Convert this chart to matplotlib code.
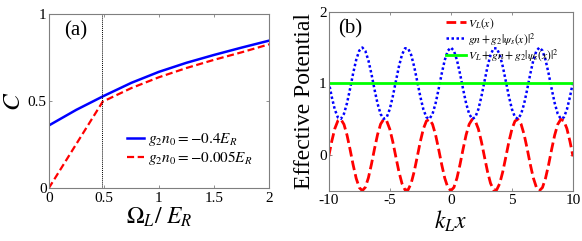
import matplotlib
matplotlib.use("Agg")
import matplotlib.pyplot as plt

plt.rcParams['font.family'] = ['Liberation Serif', 'DejaVu Serif']
plt.rcParams['mathtext.fontset'] = 'stix'

# ---- panel (a) data ----
omega_blue = [0.0, 0.25, 0.5, 0.75, 1.0, 1.25, 1.5, 1.75, 2.0]
c_blue = [0.36, 0.45, 0.53, 0.605, 0.668, 0.72, 0.765, 0.807, 0.847]
omega_red = [0.0, 0.49, 0.75, 1.0, 1.25, 1.5, 1.75, 2.0]
c_red = [0.0, 0.497, 0.575, 0.637, 0.69, 0.737, 0.78, 0.826]
vline_x = 0.48
label_blue = r'$g_2n_0=-0.4E_R$'
label_red = r'$g_2n_0=-0.005E_R$'
xticks_a = [0, 0.5, 1, 1.5, 2]
xticklabels_a = ['0', '0.5', '1', '1.5', '2']
yticks_a = [0, 0.5, 1]
yticklabels_a = ['0', '0.5', '1']

# ---- panel (b) data ----
kx = [-10 + 0.25 * i for i in range(81)]
v_L = [-0.021, 0.190, 0.367, 0.476, 0.497, 0.426, 0.276, 0.076, -0.139, -0.327,
       -0.456, -0.500, -0.452, -0.320, -0.130, 0.085, 0.284, 0.430, 0.497, 0.473,
       0.361, 0.182, -0.030, -0.236, -0.400, -0.489, -0.488, -0.397, -0.232, -0.025,
       0.186, 0.364, 0.474, 0.497, 0.428, 0.280, 0.080, -0.134, -0.324, -0.454,
       -0.5, -0.454, -0.324, -0.134, 0.080, 0.280, 0.428, 0.497, 0.474, 0.364,
       0.186, -0.025, -0.232, -0.397, -0.488, -0.489, -0.400, -0.236, -0.030, 0.182,
       0.361, 0.473, 0.497, 0.430, 0.284, 0.085, -0.130, -0.320, -0.452, -0.500,
       -0.456, -0.327, -0.139, 0.076, 0.276, 0.426, 0.497, 0.476, 0.367, 0.190,
       -0.021]
nonlin = [1.021, 0.810, 0.633, 0.524, 0.503, 0.574, 0.724, 0.924, 1.139, 1.327,
          1.456, 1.500, 1.452, 1.320, 1.130, 0.915, 0.716, 0.570, 0.503, 0.527,
          0.639, 0.818, 1.030, 1.236, 1.400, 1.489, 1.488, 1.397, 1.232, 1.025,
          0.814, 0.636, 0.526, 0.503, 0.572, 0.720, 0.920, 1.134, 1.324, 1.454,
          1.5, 1.454, 1.324, 1.134, 0.920, 0.720, 0.572, 0.503, 0.526, 0.636,
          0.814, 1.025, 1.232, 1.397, 1.488, 1.489, 1.400, 1.236, 1.030, 0.818,
          0.639, 0.527, 0.503, 0.570, 0.716, 0.915, 1.130, 1.320, 1.452, 1.500,
          1.456, 1.327, 1.139, 0.924, 0.724, 0.574, 0.503, 0.524, 0.633, 0.810,
          1.021]
total_x = [-10, 10]
total = [1.0, 1.0]
label_vl = r'$V_L(x)$'
label_nl = r'$gn+g_2|\psi_s(x)|^2$'
label_tot = r'$V_L+gn+g_2|\psi_s(x)|^2$'
xticks_b = [-10, -5, 0, 5, 10]
xticklabels_b = ['-10', '-5', '0', '5', '10']
yticks_b = [0, 1, 2]
yticklabels_b = ['0', '1', '2']

fig = plt.figure(figsize=(5.82, 2.41), dpi=100)
W, H = 582, 241
ax1 = fig.add_axes([48.7 / W, 1 - 188.3 / H, (269 - 48.7) / W, (188.3 - 14) / H])
ax2 = fig.add_axes([328.7 / W, 1 - 190.7 / H, (573 - 328.7) / W, (190.7 - 11.7) / H])

spine_col = '#7f7f7f'
for ax in (ax1, ax2):
    for s in ax.spines.values():
        s.set_color(spine_col)
        s.set_linewidth(0.8)
    ax.tick_params(direction='in', length=2.5, width=0.6, color=spine_col,
                   top=True, right=True, labelsize=11)
    ax.tick_params(axis='x', pad=2.5)
    ax.tick_params(axis='y', pad=1.5)

# panel (a)
ax1.plot(omega_blue, c_blue, color='#0000ff', lw=1.8, label=label_blue)
ax1.plot(omega_red, c_red, color='#ff0000', lw=1.6, ls=(0, (3.2, 1.6)), label=label_red)
ax1.axvline(vline_x, color='black', lw=0.7, ls=(0, (1.0, 1.0)))
ax1.set_xlim(0, 2)
ax1.set_ylim(0, 1)
ax1.set_xticks(xticks_a)
ax1.set_xticklabels(xticklabels_a)
ax1.set_yticks(yticks_a)
ax1.set_yticklabels(yticklabels_a)
ax1.set_xlabel(r'$\Omega_L/\ E_R$', fontsize=17, labelpad=1)
ax1.set_ylabel(r'$C$', fontsize=18, labelpad=2)
ax1.text(0.07, 0.96, '(a)', transform=ax1.transAxes, fontsize=15, va='top', ha='left')
ax1.legend(loc='center left', bbox_to_anchor=(0.355, 0.225), frameon=False, fontsize=11,
           handlelength=1.1, handletextpad=0.25, labelspacing=0.05, borderpad=0.0,
           borderaxespad=0.0)

# panel (b)
ax2.plot(kx, v_L, color='#ff0000', lw=2.0, ls=(0, (3.5, 1.5)), label=label_vl)
ax2.plot(kx, nonlin, color='#0000ff', lw=1.8, ls=(0, (1, 1)), label=label_nl)
ax2.plot(total_x, total, color='#00ff00', lw=2.0, label=label_tot)
ax2.set_xlim(-10, 10)
ax2.set_ylim(-0.5, 2)
ax2.set_xticks(xticks_b)
ax2.set_xticklabels(xticklabels_b)
ax2.set_yticks(yticks_b)
ax2.set_yticklabels(yticklabels_b)
ax2.set_xlabel(r'$k_Lx$', fontsize=17, labelpad=1)
ax2.set_ylabel('Effective Potential', fontsize=17, labelpad=3)
ax2.text(0.04, 0.96, '(b)', transform=ax2.transAxes, fontsize=15, va='top', ha='left')
ax2.legend(loc='center left', bbox_to_anchor=(0.48, 0.845), frameon=False, fontsize=8.4,
           handlelength=1.7, handletextpad=0.2, labelspacing=0.02, borderpad=0.0,
           borderaxespad=0.0)

fig.savefig('out.png', dpi=100)
